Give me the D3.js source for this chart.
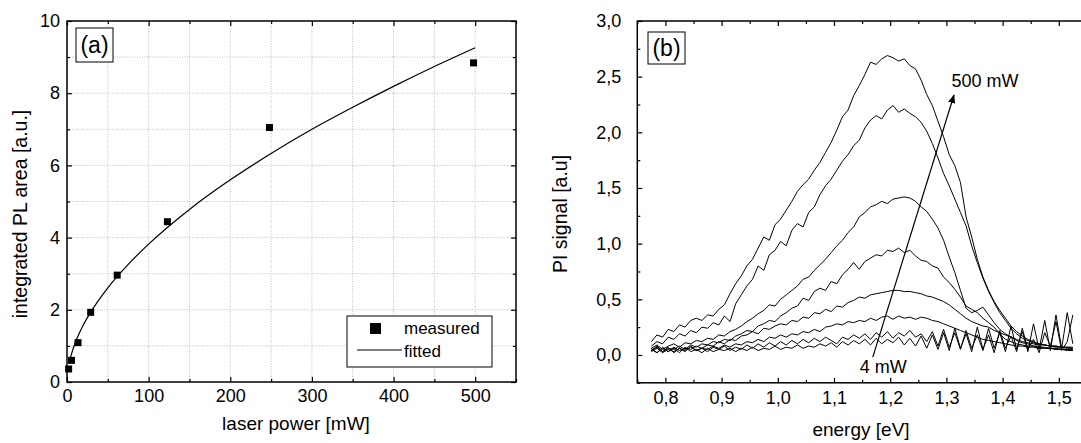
<!DOCTYPE html>
<html>

<head>
    <meta charset="utf-8">
    <title>PL power dependence</title>
    <script src="https://d3js.org/d3.v7.min.js"></script>
    <style>
        body {
            margin: 0;
            background: #fff;
        }

        svg text {
            font-family: "Liberation Sans", Arial, sans-serif;
            fill: #000;
        }

        .axis path.domain {
            display: none;
        }

        .axis line {
            stroke: #000;
            stroke-width: 1.2px;
        }

        .grid line {
            stroke: #bdbdbd;
            stroke-width: 1px;
            stroke-dasharray: 1, 1.5;
        }
    </style>
</head>

<body>
    <div id="chart"></div>

    <script>
        // panel (a): integrated PL area vs laser power
        const powerMeasured = [2, 5.5, 13.5, 29, 61.5, 123, 248, 498];
        const plMeasured = [0.36, 0.60, 1.09, 1.93, 2.96, 4.44, 7.05, 8.84];
        const powerFit = [2.5, 5, 10, 15, 20, 30, 50, 75, 100, 150, 200, 250, 300, 350, 400, 450, 500];
        const plFit = [0.52, 0.74, 1.08, 1.35, 1.58, 1.97, 2.61, 3.26, 3.82, 4.78, 5.60, 6.33, 7.00, 7.61, 8.19, 8.74, 9.26];
        const powerTicks = [0, 100, 200, 300, 400, 500];
        const plTicks = [0, 2, 4, 6, 8, 10];

        // panel (b): PI spectra, 500 mW (first) ... 4 mW (last)
        const energy = [
            0.775, 0.785, 0.795, 0.805, 0.815, 0.825, 0.835, 0.845, 0.855, 0.865,
            0.875, 0.885, 0.895, 0.905, 0.915, 0.925, 0.935, 0.945, 0.955, 0.965,
            0.975, 0.985, 0.995, 1.005, 1.015, 1.025, 1.035, 1.045, 1.055, 1.065,
            1.075, 1.085, 1.095, 1.105, 1.115, 1.125, 1.135, 1.145, 1.155, 1.165,
            1.175, 1.185, 1.195, 1.205, 1.215, 1.225, 1.235, 1.245, 1.255, 1.265,
            1.275, 1.285, 1.295, 1.305, 1.315, 1.325, 1.335, 1.345, 1.355, 1.365,
            1.375, 1.385, 1.395, 1.405, 1.415, 1.425, 1.435, 1.445, 1.455, 1.465,
            1.475, 1.485, 1.495, 1.505, 1.515, 1.525
        ];
        const pi500 = [
            0.12, 0.18, 0.16, 0.23, 0.21, 0.27, 0.25, 0.31, 0.33, 0.31,
            0.36, 0.35, 0.41, 0.45, 0.55, 0.64, 0.71, 0.80, 0.86, 0.96,
            1.06, 1.03, 1.17, 1.22, 1.30, 1.38, 1.47, 1.53, 1.58, 1.66,
            1.73, 1.82, 1.91, 2.02, 2.14, 2.20, 2.33, 2.42, 2.52, 2.63,
            2.61, 2.66, 2.69, 2.67, 2.64, 2.66, 2.60, 2.57, 2.47, 2.34,
            2.24, 2.10, 1.96, 1.80, 1.70, 1.55, 1.24, 1.06, 0.86, 0.70,
            0.58, 0.48, 0.40, 0.33, 0.26, 0.21, 0.17, 0.14, 0.12, 0.10,
            0.09, 0.08, 0.07, 0.07, 0.06, 0.06
        ];
        const pi250 = [
            0.08, 0.12, 0.10, 0.16, 0.14, 0.19, 0.17, 0.22, 0.20, 0.25,
            0.24, 0.29, 0.27, 0.35, 0.30, 0.46, 0.54, 0.62, 0.68, 0.80,
            0.76, 0.90, 0.94, 1.02, 0.98, 1.12, 1.18, 1.15, 1.28, 1.33,
            1.44, 1.52, 1.58, 1.66, 1.74, 1.80, 1.88, 1.93, 2.04, 2.11,
            2.15, 2.12, 2.20, 2.24, 2.18, 2.21, 2.17, 2.14, 2.09, 2.01,
            1.90, 1.77, 1.63, 1.52, 1.40, 1.28, 1.16, 0.98, 0.83, 0.69,
            0.57, 0.47, 0.38, 0.31, 0.24, 0.19, 0.15, 0.13, 0.11, 0.10,
            0.09, 0.08, 0.08, 0.07, 0.07, 0.06
        ];
        const pi125 = [
            0.06, 0.09, 0.05, 0.08, 0.10, 0.07, 0.11, 0.10, 0.13, 0.12,
            0.15, 0.14, 0.18, 0.17, 0.21, 0.23, 0.26, 0.30, 0.33, 0.37,
            0.40, 0.45, 0.44, 0.50, 0.54, 0.58, 0.62, 0.68, 0.70, 0.76,
            0.81, 0.86, 0.92, 0.98, 1.03, 1.10, 1.15, 1.24, 1.28, 1.33,
            1.35, 1.38, 1.36, 1.40, 1.41, 1.42, 1.41, 1.38, 1.33, 1.29,
            1.22, 1.14, 1.03, 0.88, 0.74, 0.58, 0.42, 0.38, 0.40, 0.43,
            0.36, 0.29, 0.23, 0.19, 0.16, 0.13, 0.11, 0.10, 0.08, 0.07,
            0.06, 0.06, 0.05, 0.05, 0.04, 0.04
        ];
        const pi62 = [
            0.04, 0.07, 0.03, 0.06, 0.05, 0.08, 0.05, 0.09, 0.07, 0.10,
            0.09, 0.12, 0.11, 0.14, 0.13, 0.17, 0.19, 0.22, 0.21, 0.26,
            0.28, 0.31, 0.30, 0.35, 0.38, 0.42, 0.44, 0.51, 0.49, 0.57,
            0.60, 0.58, 0.66, 0.64, 0.72, 0.77, 0.83, 0.77, 0.84, 0.87,
            0.90, 0.89, 0.94, 0.93, 0.96, 0.92, 0.94, 0.89, 0.85, 0.84,
            0.80, 0.78, 0.70, 0.65, 0.59, 0.52, 0.44, 0.41, 0.38, 0.33,
            0.29, 0.25, 0.19, 0.14, 0.12, 0.10, 0.09, 0.08, 0.08, 0.07,
            0.07, 0.06, 0.06, 0.05, 0.05, 0.05
        ];
        const pi31 = [
            0.05, 0.02, 0.06, 0.03, 0.07, 0.04, 0.06, 0.05, 0.08, 0.06,
            0.09, 0.08, 0.12, 0.10, 0.14, 0.13, 0.17, 0.18, 0.21, 0.19,
            0.24, 0.23, 0.26, 0.28, 0.27, 0.31, 0.30, 0.34, 0.33, 0.38,
            0.37, 0.41, 0.39, 0.44, 0.43, 0.47, 0.49, 0.52, 0.51, 0.54,
            0.55, 0.56, 0.57, 0.58, 0.58, 0.57, 0.57, 0.56, 0.55, 0.53,
            0.52, 0.50, 0.48, 0.45, 0.41, 0.37, 0.33, 0.30, 0.28, 0.26,
            0.25, 0.22, 0.20, 0.18, 0.16, 0.14, 0.12, 0.11, 0.10, 0.09,
            0.09, 0.08, 0.08, 0.07, 0.07, 0.07
        ];
        const pi16 = [
            0.03, 0.06, 0.02, 0.05, 0.03, 0.06, 0.04, 0.07, 0.04, 0.06,
            0.05, 0.08, 0.06, 0.09, 0.07, 0.10, 0.09, 0.12, 0.11, 0.14,
            0.12, 0.16, 0.15, 0.18, 0.16, 0.19, 0.18, 0.21, 0.20, 0.23,
            0.21, 0.25, 0.26, 0.28, 0.27, 0.30, 0.29, 0.31, 0.30, 0.33,
            0.31, 0.34, 0.35, 0.32, 0.35, 0.33, 0.34, 0.32, 0.34, 0.33,
            0.31, 0.30, 0.28, 0.26, 0.24, 0.22, 0.20, 0.18, 0.16, 0.14,
            0.13, 0.12, 0.11, 0.10, 0.09, 0.08, 0.08, 0.07, 0.07, 0.06,
            0.06, 0.06, 0.05, 0.05, 0.05, 0.04
        ];
        const pi8 = [
            0.04, 0.08, 0.03, 0.07, 0.02, 0.06, 0.03, 0.08, 0.04, 0.06,
            0.03, 0.07, 0.05, 0.08, 0.04, 0.07, 0.05, 0.09, 0.06, 0.10,
            0.07, 0.11, 0.08, 0.12, 0.09, 0.13, 0.10, 0.14, 0.11, 0.15,
            0.12, 0.16, 0.13, 0.10, 0.16, 0.14, 0.18, 0.15, 0.19, 0.14,
            0.20, 0.16, 0.21, 0.15, 0.20, 0.17, 0.22, 0.16, 0.19, 0.12,
            0.21, 0.08, 0.23, 0.07, 0.20, 0.05, 0.22, 0.06, 0.18, 0.04,
            0.24, 0.06, 0.20, 0.03, 0.26, 0.05, 0.21, 0.03, 0.28, 0.05,
            0.31, 0.04, 0.36, 0.06, 0.38, 0.10
        ];
        const pi4 = [
            0.06, 0.02, 0.07, 0.03, 0.06, 0.02, 0.07, 0.03, 0.05, 0.02,
            0.06, 0.03, 0.05, 0.04, 0.06, 0.03, 0.06, 0.04, 0.07, 0.04,
            0.06, 0.05, 0.08, 0.05, 0.07, 0.06, 0.09, 0.06, 0.08, 0.07,
            0.10, 0.08, 0.11, 0.07, 0.12, 0.09, 0.13, 0.10, 0.14, 0.09,
            0.15, 0.10, 0.14, 0.11, 0.16, 0.09, 0.15, 0.08, 0.17, 0.06,
            0.18, 0.05, 0.20, 0.04, 0.24, 0.06, 0.19, 0.03, 0.25, 0.05,
            0.18, 0.02, 0.22, 0.06, 0.17, 0.03, 0.24, 0.05, 0.14, 0.02,
            0.20, 0.08, 0.30, 0.04, 0.12, 0.36
        ];
        const spectra = [pi500, pi250, pi125, pi62, pi31, pi16, pi8, pi4];
        const energyTicks = [0.8, 0.9, 1.0, 1.1, 1.2, 1.3, 1.4, 1.5];
        const signalTicks = [0, 0.5, 1.0, 1.5, 2.0, 2.5, 3.0];

        // arrow annotation in data coordinates of panel (b): [energy, signal]
        const arrowFrom = [1.169, -0.02];
        const arrowTo = [1.3135, 2.335];
        const labelHigh = { text: "500 mW", e: 1.309, v: 2.41 };
        const labelLow = { text: "4 mW", e: 1.146, v: -0.165 };

        const W = 1081, H = 443;
        const svg = d3.select("#chart").append("svg")
            .attr("width", W)
            .attr("height", H);

        svg.append("defs").append("marker")
            .attr("id", "head")
            .attr("viewBox", "0 0 10 10")
            .attr("refX", 9).attr("refY", 5)
            .attr("markerWidth", 9).attr("markerHeight", 9)
            .attr("markerUnits", "userSpaceOnUse")
            .attr("orient", "auto")
            .append("path")
            .attr("d", "M0,1 L10,5 L0,9 Z")
            .attr("fill", "#000");

        const fmtComma = d => d3.format(".1f")(d).replace(".", ",");

        // inward ticks on all four sides, majors labelled on bottom/left only
        function drawAxes(g, x, y, o) {
            const [x0, x1] = x.range();
            const [y0, y1] = y.range();
            const sides = [
                { make: d3.axisBottom, scale: x, at: `translate(0,${y0})`, label: true, pad: o.xPad, major: o.xMajor, minor: o.xMinor, fmt: o.xFmt },
                { make: d3.axisTop, scale: x, at: `translate(0,${y1})`, label: false, major: o.xMajor, minor: o.xMinor },
                { make: d3.axisLeft, scale: y, at: `translate(${x0},0)`, label: true, pad: o.yPad, major: o.yMajor, minor: o.yMinor, fmt: o.yFmt },
                { make: d3.axisRight, scale: y, at: `translate(${x1},0)`, label: false, major: o.yMajor, minor: o.yMinor }
            ];
            sides.forEach(s => {
                const major = g.append("g").attr("class", "axis").attr("transform", s.at)
                    .call(s.make(s.scale).tickValues(s.major).tickSize(-5)
                        .tickPadding(s.label ? s.pad : 0)
                        .tickFormat(s.label ? s.fmt : () => ""));
                major.selectAll("text").style("font-size", "18px");
                g.append("g").attr("class", "axis").attr("transform", s.at)
                    .call(s.make(s.scale).tickValues(s.minor).tickSize(-3).tickFormat(() => ""));
            });
            g.append("rect")
                .attr("x", x0).attr("y", y1)
                .attr("width", x1 - x0).attr("height", y0 - y1)
                .attr("fill", "none").attr("stroke", "#000").attr("stroke-width", 1.5);
        }

        function panelTag(g, text, x, y, w, h) {
            g.append("rect").attr("x", x).attr("y", y).attr("width", w).attr("height", h)
                .attr("fill", "#fff").attr("stroke", "#000").attr("stroke-width", 1);
            g.append("text").attr("x", x + w / 2).attr("y", y + h / 2 + 8)
                .attr("text-anchor", "middle").style("font-size", "23px").text(text);
        }

        // ---------- panel (a) ----------
        const xA = d3.scaleLinear().domain([0, 550]).range([67, 516]);
        const yA = d3.scaleLinear().domain([0, 10]).range([382, 21]);
        const gA = svg.append("g");

        gA.append("g").attr("class", "grid")
            .selectAll("line").data(d3.range(50, 550, 50)).join("line")
            .attr("x1", d => xA(d)).attr("x2", d => xA(d))
            .attr("y1", yA(0)).attr("y2", yA(10));
        gA.append("g").attr("class", "grid")
            .selectAll("line").data(d3.range(1, 10, 1)).join("line")
            .attr("x1", xA(0)).attr("x2", xA(550))
            .attr("y1", d => yA(d)).attr("y2", d => yA(d));

        drawAxes(gA, xA, yA, {
            xMajor: powerTicks, xMinor: [50, 150, 250, 350, 450, 550], xPad: 7, xFmt: d3.format("d"),
            yMajor: plTicks, yMinor: [1, 3, 5, 7, 9], yPad: 7, yFmt: d3.format("d")
        });

        gA.append("path")
            .datum(powerFit.map((p, i) => [p, plFit[i]]))
            .attr("fill", "none").attr("stroke", "#000").attr("stroke-width", 1.2)
            .attr("d", d3.line().x(d => xA(d[0])).y(d => yA(d[1])).curve(d3.curveMonotoneX));

        gA.selectAll("rect.pt")
            .data(powerMeasured.map((p, i) => [p, plMeasured[i]]))
            .join("rect").attr("class", "pt")
            .attr("x", d => xA(d[0]) - 3.5).attr("y", d => yA(d[1]) - 3.5)
            .attr("width", 7).attr("height", 7).attr("fill", "#000");

        // legend
        const lg = gA.append("g");
        lg.append("rect").attr("x", 347).attr("y", 316).attr("width", 145).attr("height", 51)
            .attr("fill", "#fff").attr("stroke", "#000").attr("stroke-width", 1);
        lg.append("rect").attr("x", 370).attr("y", 323).attr("width", 11).attr("height", 11).attr("fill", "#000");
        lg.append("line").attr("x1", 357).attr("x2", 402).attr("y1", 350).attr("y2", 350)
            .attr("stroke", "#000").attr("stroke-width", 1.2);
        lg.append("text").attr("x", 404).attr("y", 334).style("font-size", "17px").text("measured");
        lg.append("text").attr("x", 404).attr("y", 357).style("font-size", "17px").text("fitted");

        panelTag(gA, "(a)", 76, 28, 37, 34);

        gA.append("text").attr("x", 296).attr("y", 430).attr("text-anchor", "middle")
            .style("font-size", "19px").text("laser power [mW]");
        gA.append("text").attr("transform", "translate(27,214) rotate(-90)")
            .attr("text-anchor", "middle").style("font-size", "19.5px").text("integrated PL area [a.u.]");

        // ---------- panel (b) ----------
        const xB = d3.scaleLinear().domain([0.75, 1.55]).range([637.3, 1086.9]);
        const yB = d3.scaleLinear().domain([-0.25, 3.0]).range([382.8, 21]);
        const gB = svg.append("g");

        drawAxes(gB, xB, yB, {
            xMajor: energyTicks, xMinor: [0.75, 0.85, 0.95, 1.05, 1.15, 1.25, 1.35, 1.45, 1.55], xPad: 8, xFmt: fmtComma,
            yMajor: signalTicks, yMinor: [-0.25, 0.25, 0.75, 1.25, 1.75, 2.25, 2.75], yPad: 16, yFmt: fmtComma
        });

        const specLine = d3.line().x((d, i) => xB(energy[i])).y(d => yB(d));
        gB.selectAll("path.spec").data(spectra).join("path").attr("class", "spec")
            .attr("fill", "none").attr("stroke", "#000").attr("stroke-width", 1)
            .attr("stroke-linejoin", "round")
            .attr("d", specLine);

        gB.append("line")
            .attr("x1", xB(arrowFrom[0])).attr("y1", yB(arrowFrom[1]))
            .attr("x2", xB(arrowTo[0])).attr("y2", yB(arrowTo[1]))
            .attr("stroke", "#000").attr("stroke-width", 1.2)
            .attr("marker-end", "url(#head)");
        [labelHigh, labelLow].forEach(l => {
            gB.append("text").attr("x", xB(l.e)).attr("y", yB(l.v))
                .style("font-size", "18px").text(l.text);
        });

        panelTag(gB, "(b)", 648, 32, 37, 32);

        gB.append("text").attr("x", 861).attr("y", 436).attr("text-anchor", "middle")
            .style("font-size", "19px").text("energy [eV]");
        gB.append("text").attr("transform", "translate(567,214) rotate(-90)")
            .attr("text-anchor", "middle").style("font-size", "19.5px").text("PI signal [a.u]");
    </script>
</body>

</html>
